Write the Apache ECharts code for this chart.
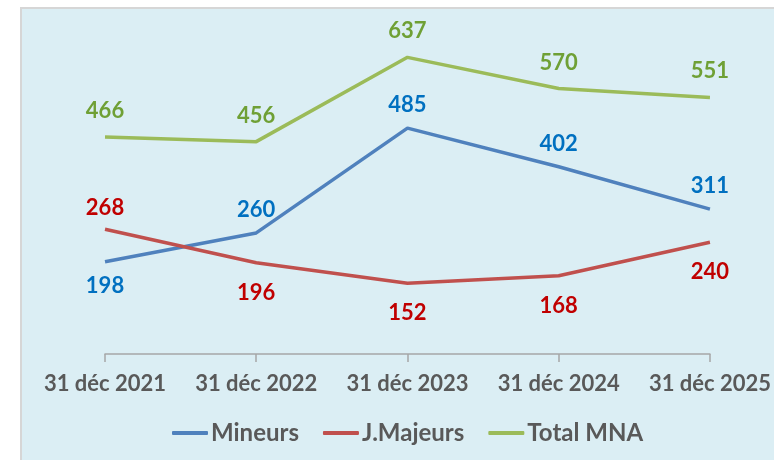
<!DOCTYPE html>
<html>
<head>
<meta charset="utf-8">
<script src="https://cdn.jsdelivr.net/npm/echarts@6/dist/echarts.min.js"></script>
<style>
html,body{margin:0;padding:0;background:#fff;}
#chart{width:774px;height:460px;}
</style>
</head>
<body>
<div id="chart"></div>
<script>
var categories=['31 déc 2021','31 déc 2022','31 déc 2023','31 déc 2024','31 déc 2025'];
var mineurs=[198,260,485,402,311];
var majeurs=[268,196,152,168,240];
var total=[466,456,637,570,551];
// where each value label sits
var posMineurs=['bottom','top','top','top','top'];
var posMajeurs=['top','bottom','bottom','bottom','bottom'];
var posTotal=['top','top','top','top','top'];

function items(vals,pos,up,down){
    return vals.map(function(v,i){
        return {value:v,label:{position:pos[i],distance:pos[i]=='top'?up:down}};
    });
}
function line(name,vals,pos,color,labelColor,up,down){
    return {
        name:name,type:'line',data:items(vals,pos,up,down),
        symbol:'circle',symbolSize:0,showSymbol:true,
        lineStyle:{color:color,width:3.5},
        itemStyle:{color:color},
        label:{show:true,color:labelColor,fontSize:22,fontWeight:'bold',fontFamily:'Lato'}
    };
}
var chart=echarts.init(document.getElementById('chart'));
chart.setOption({
    animation:false,
    textStyle:{fontFamily:'Lato'},
    graphic:[{type:'rect',z:-10,silent:true,
        shape:{x:21,y:8,width:800,height:500},
        style:{fill:'#DBEEF4',stroke:'#D6D6D6',lineWidth:2}}],
    grid:{left:105,right:63,top:28,bottom:106},
    xAxis:{type:'category',data:categories,boundaryGap:false,
        axisLine:{lineStyle:{color:'#A6A6A6',width:1.5}},
        axisTick:{show:true,length:8,lineStyle:{color:'#A6A6A6',width:1.5}},
        axisLabel:{interval:0,color:'#595959',fontSize:22,fontWeight:'bold',margin:19,fontFamily:'Lato'}},
    yAxis:{type:'value',min:0,max:700,show:false,splitLine:{show:false}},
    legend:{bottom:10,left:167,itemGap:24,itemWidth:36,itemHeight:4,icon:'roundRect',
        textStyle:{color:'#595959',fontSize:24,fontWeight:'bold',fontFamily:'Lato',padding:[0,0,0,-2]},
        data:['Mineurs','J.Majeurs','Total MNA']},
    series:[
        line('Mineurs',mineurs,posMineurs,'#4F81BD','#0070C0',12,13),
        line('J.Majeurs',majeurs,posMajeurs,'#C0504D','#C00000',10,19),
        line('Total MNA',total,posTotal,'#9BBB59','#6FA035',15,15)
    ]
});
</script>
</body>
</html>
